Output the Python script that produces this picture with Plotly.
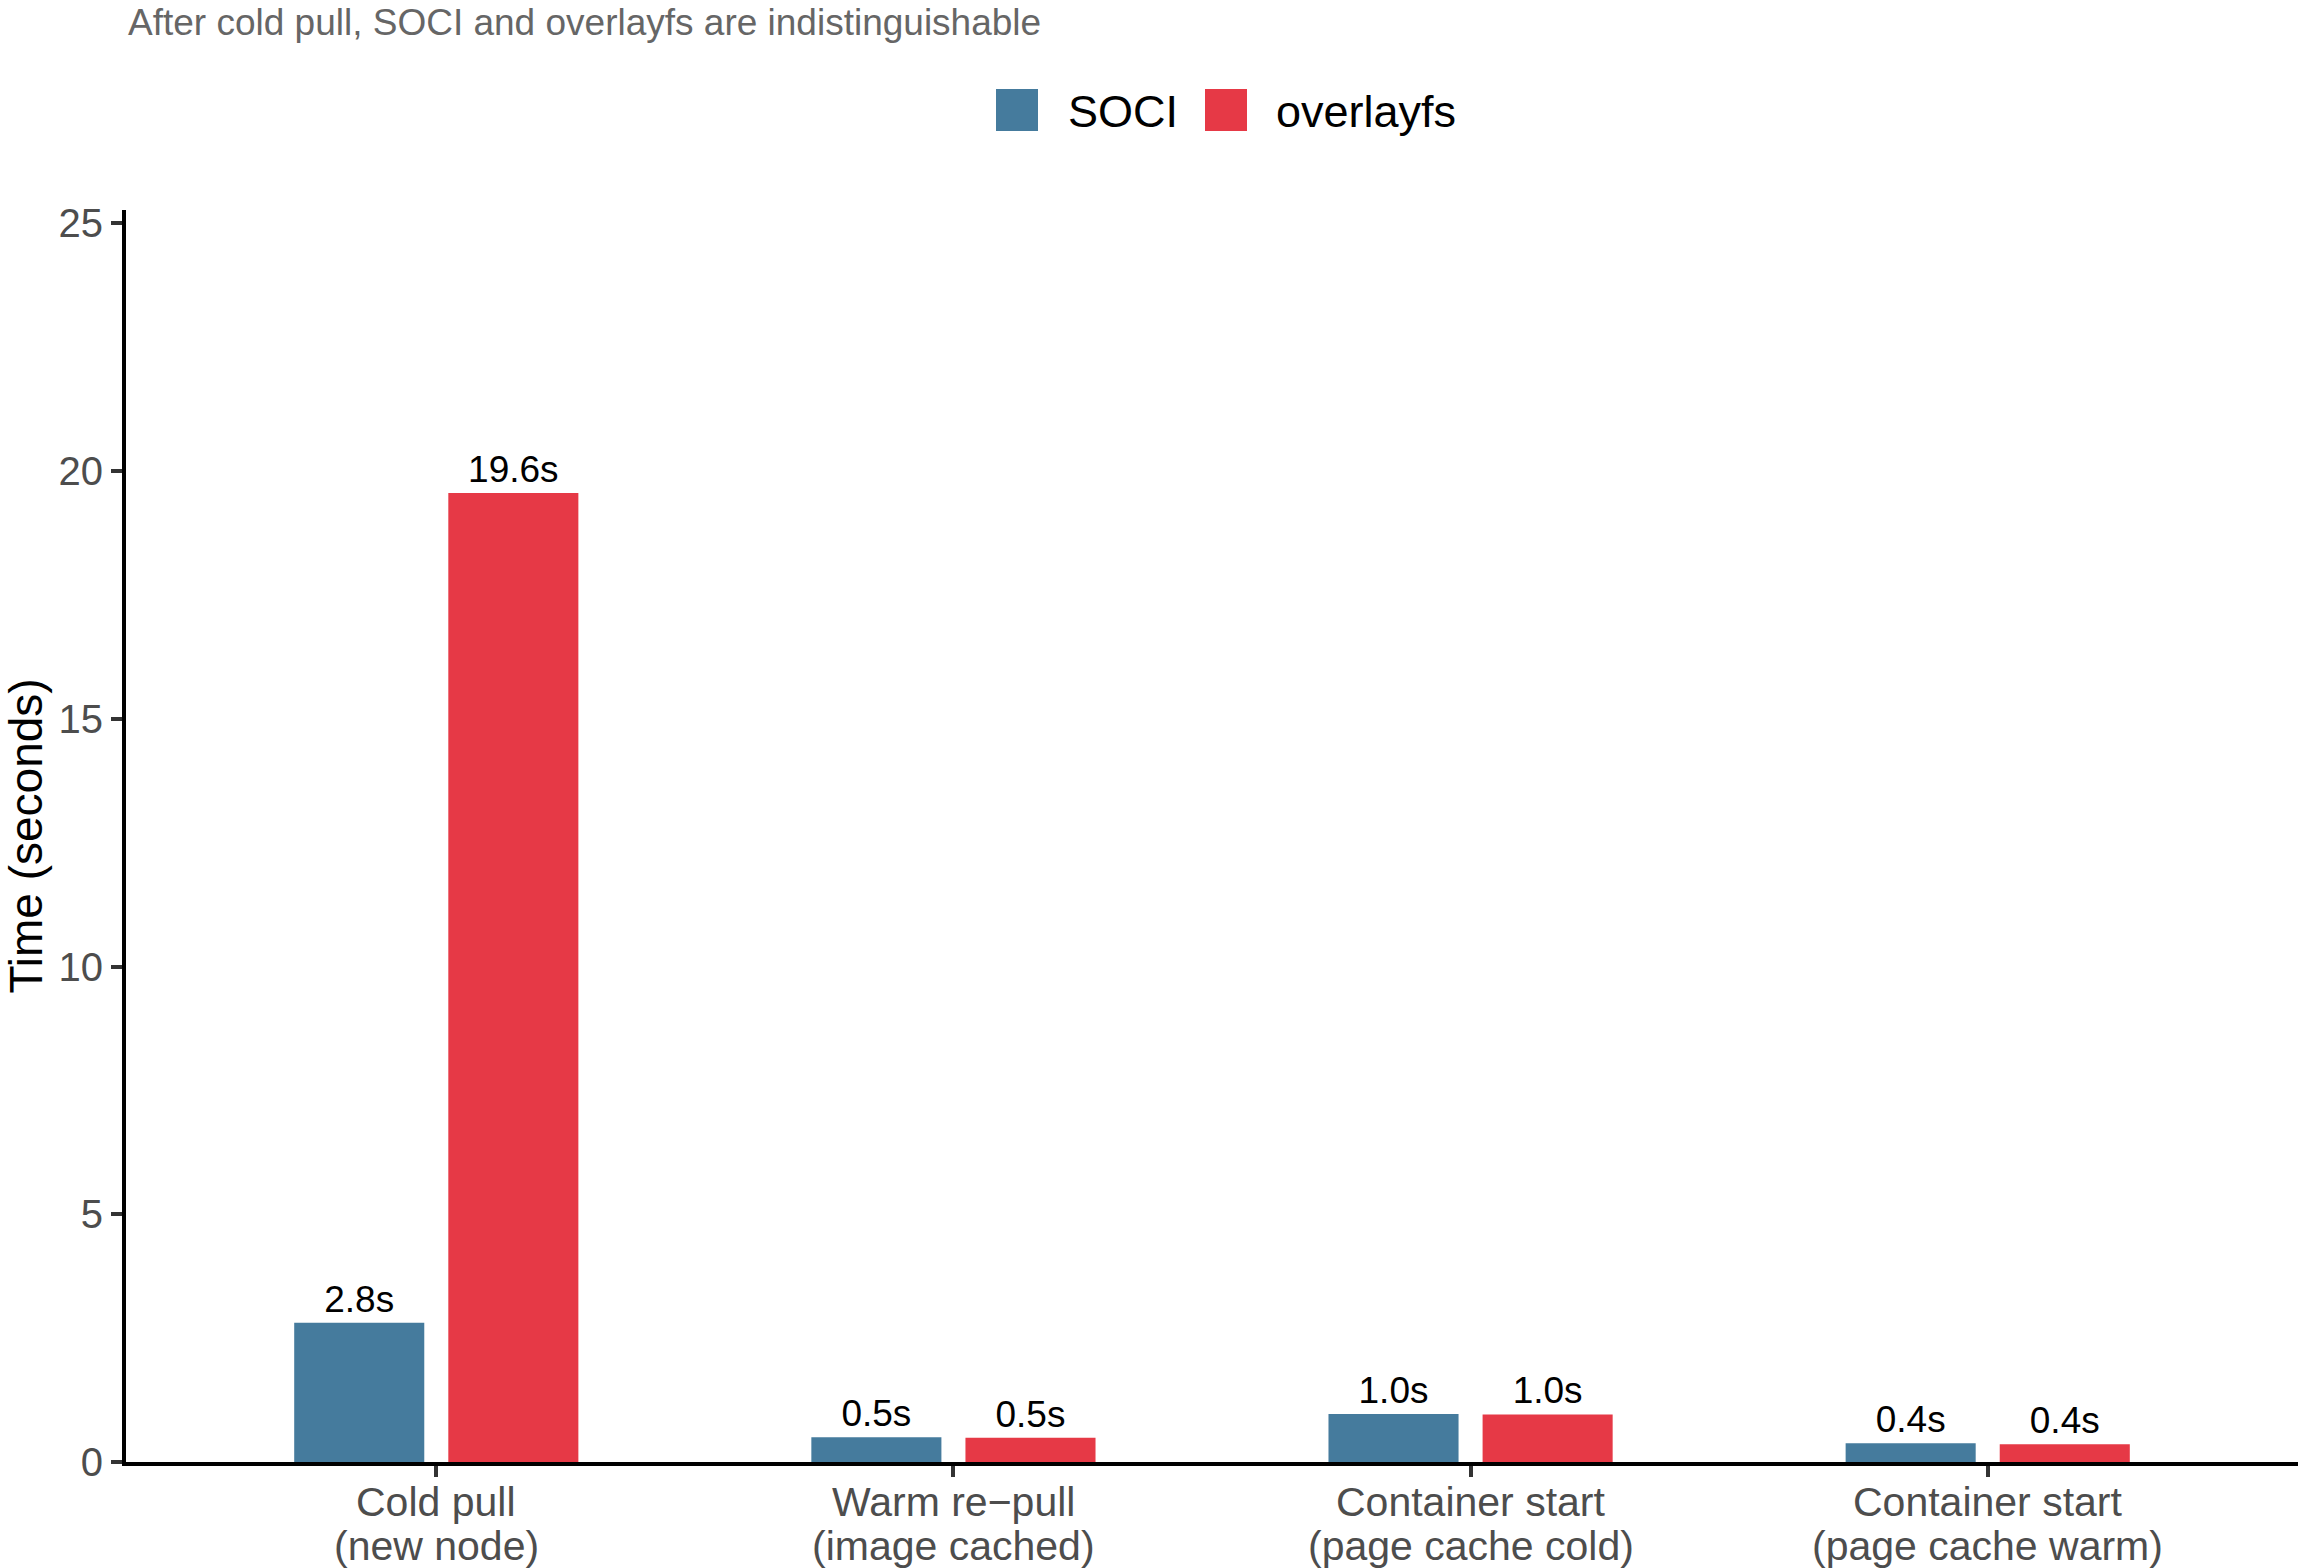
import plotly.graph_objects as go

# ---- data ----
categories = ["Cold pull<br>(new node)", "Warm re−pull<br>(image cached)",
              "Container start<br>(page cache cold)", "Container start<br>(page cache warm)"]
soci = [2.81, 0.50, 0.97, 0.38]
overlayfs = [19.56, 0.49, 0.96, 0.36]
series_names = ["SOCI", "overlayfs"]
y_ticks = [0, 5, 10, 15, 20, 25]
subtitle = "After cold pull, SOCI and overlayfs are indistinguishable"
y_title = "Time (seconds)"

COL_SOCI = "#457B9D"
COL_OVL = "#E63946"
FONT = "Liberation Sans"

W, H = 2298, 1568
L, R, T, B = 126, 0, 210, 106
PW, PH = W - L - R, H - T - B


def px_x(px):
    return (px - L) / PW


def px_y(py):
    return (H - B - py) / PH


fig = go.Figure()
for name, vals, col in [(series_names[0], soci, COL_SOCI), (series_names[1], overlayfs, COL_OVL)]:
    fig.add_trace(go.Bar(
        x=categories, y=vals, name=name,
        marker=dict(color=col, line=dict(width=0)),
        texttemplate="%{y:.1f}s", textposition="outside",
        textfont=dict(family=FONT, size=37, color="black"),
        constraintext="none", cliponaxis=False, showlegend=False,
    ))

# category labels, one annotation per line (ggplot-like tight line height)
for cat in categories:
    for i, line in enumerate(cat.split("<br>")):
        fig.add_annotation(text=line, xref="x", yref="paper", x=cat, y=px_y(1502 + 44 * i),
                           xanchor="center", yanchor="middle", showarrow=False,
                           font=dict(family=FONT, size=41, color="#4D4D4D"))

# legend drawn as shapes + text
legend_items = [(series_names[0], COL_SOCI, 996, 1066), (series_names[1], COL_OVL, 1205, 1274)]
for name, col, sx, tx in legend_items:
    fig.add_shape(type="rect", xref="paper", yref="paper",
                  x0=px_x(sx), x1=px_x(sx + 42), y0=px_y(131), y1=px_y(89),
                  fillcolor=col, line=dict(width=0))
    fig.add_annotation(text=name, xref="paper", yref="paper", x=px_x(tx), y=px_y(111),
                       xanchor="left", yanchor="middle", showarrow=False,
                       font=dict(family=FONT, size=45, color="black"))

fig.add_annotation(text=subtitle, xref="paper", yref="paper", x=px_x(126), y=px_y(0),
                   xanchor="left", yanchor="top", showarrow=False,
                   font=dict(family=FONT, size=37, color="#666666"))

fig.update_layout(
    width=W, height=H,
    margin=dict(l=L, r=R, t=T, b=B, pad=0),
    paper_bgcolor="white", plot_bgcolor="white",
    barmode="group", bargap=0.404, bargroupgap=0.156,
    font=dict(family=FONT, color="#4D4D4D"),
    xaxis=dict(type="category", range=[-0.6, 3.6], showgrid=False, zeroline=False,
               showline=True, linecolor="black", linewidth=4, automargin=False,
               ticks="outside", ticklen=11, tickwidth=4, tickcolor="#333333",
               showticklabels=False),
    yaxis=dict(range=[0, 25.27], tickvals=y_ticks, showgrid=False, zeroline=False,
               showline=True, linecolor="black", linewidth=4, automargin=False,
               ticks="outside", ticklen=11, tickwidth=4, tickcolor="#333333",
               tickfont=dict(family=FONT, size=40, color="#4D4D4D"),
               title=dict(text=y_title, font=dict(family=FONT, size=46, color="black"), standoff=14)),
)

fig.write_html("out.html")
